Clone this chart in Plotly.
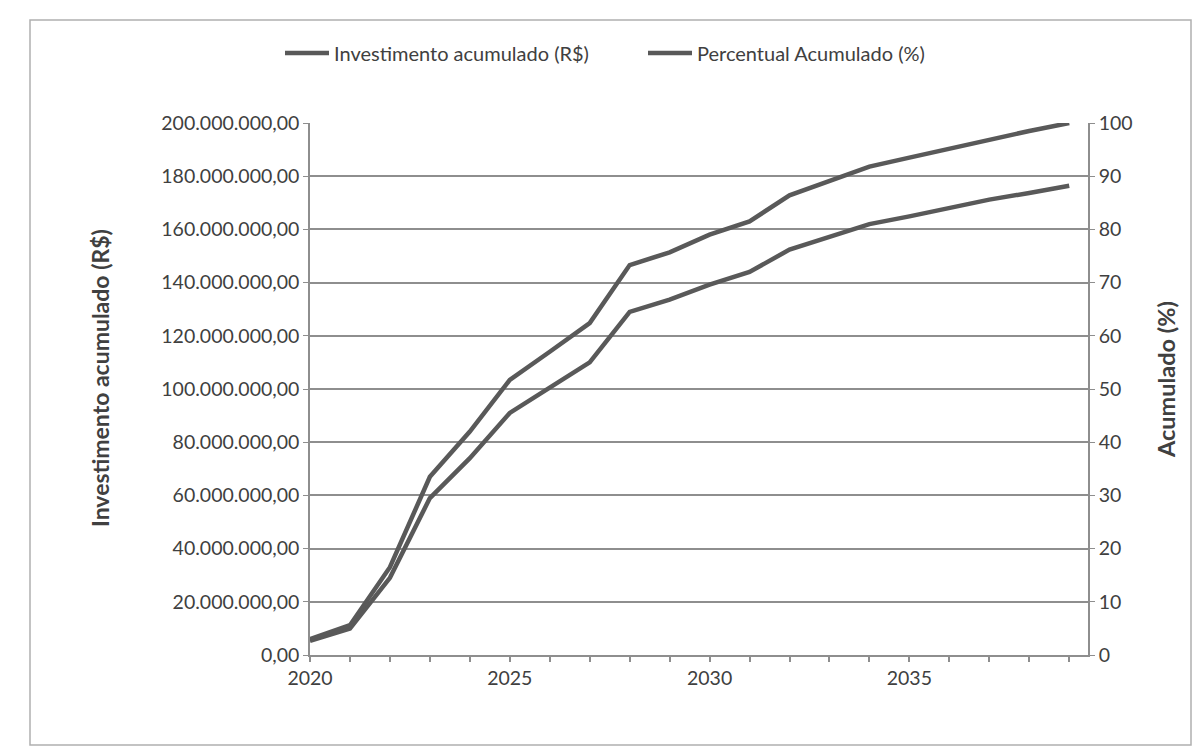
import plotly.graph_objects as go

years = list(range(2020, 2040))
investimento = [5.3e6, 9.9e6, 29.0e6, 59.0e6, 74.0e6, 91.0e6, 100.5e6, 110.0e6, 129.0e6, 133.6e6,
                139.2e6, 144.0e6, 152.4e6, 157.4e6, 162.0e6, 164.9e6, 168.0e6, 171.2e6, 173.7e6, 176.4e6]
percentual = [3.0, 5.6, 16.5, 33.5, 42.0, 51.7, 57.0, 62.4, 73.3, 75.7,
              79.0, 81.5, 86.4, 89.2, 91.8, 93.5, 95.2, 97.0, 98.5, 100.0]

name_inv = "Investimento acumulado (R$)"
name_pct = "Percentual Acumulado (%)"
title_left = "Investimento acumulado (R$)"
title_right = "Acumulado (%)"

LINE = "#595959"
GRID = "#8e8e8e"
TXT = "#404040"
FONT = "Lato"
TICK = 19.5

fig = go.Figure()
fig.add_trace(go.Scatter(x=years, y=investimento, name=name_inv, mode="lines",
                         line=dict(color=LINE, width=4.5), yaxis="y"))
fig.add_trace(go.Scatter(x=years, y=percentual, name=name_pct, mode="lines",
                         line=dict(color=LINE, width=4.5), yaxis="y2"))

L, R, T, B = 302, 1080, 115, 647
W, H = 1203, 749

def px(x):
    return (x - L) / (R - L)

def py(y):
    return (B - y) / (B - T)

fig.update_layout(
    width=W, height=H,
    margin=dict(l=L, r=W - R, t=T, b=H - B),
    paper_bgcolor="white", plot_bgcolor="white",
    separators=",.",
    font=dict(family=FONT, size=TICK, color=TXT),
    showlegend=True,
    legend=dict(orientation="h", x=px(272), xanchor="left", y=py(45), yanchor="middle",
                font=dict(family=FONT, size=20, color=TXT), bgcolor="rgba(0,0,0,0)",
                itemwidth=44, entrywidth=304, entrywidthmode="pixels", tracegroupgap=0),
    xaxis=dict(range=[2020, 2039.47], tickmode="linear", tick0=2020, dtick=5,
               ticks="outside", ticklen=5, tickcolor=GRID, tickwidth=1.5,
               minor=dict(dtick=1, tick0=2020, ticks="outside", ticklen=5, tickcolor=GRID, tickwidth=1.5),
               showgrid=False, zeroline=False, showline=True, linecolor=GRID, linewidth=1.5,
               tickfont=dict(family=FONT, size=TICK, color=TXT), fixedrange=True),
    yaxis=dict(range=[0, 200e6], tickmode="linear", tick0=0, dtick=20e6, tickformat=",.2f",
               showgrid=True, gridcolor=GRID, gridwidth=1.5, zeroline=False,
               showline=True, linecolor=GRID, linewidth=1.5,
               ticks="outside", ticklen=5, tickcolor=GRID,
               tickfont=dict(family=FONT, size=TICK, color=TXT)),
    yaxis2=dict(range=[0, 100], tickmode="linear", tick0=0, dtick=10, overlaying="y", side="right",
                showgrid=False, zeroline=False, showline=True, linecolor=GRID, linewidth=1.5,
                ticks="outside", ticklen=5, tickcolor=GRID,
                tickfont=dict(family=FONT, size=TICK, color=TXT)),
)

fig.add_annotation(text="<b>" + title_left + "</b>", xref="paper", yref="paper",
                   x=px(92), y=py(370), xanchor="center", yanchor="middle",
                   textangle=-90, showarrow=False,
                   font=dict(family=FONT, size=23, color=TXT))
fig.add_annotation(text="<b>" + title_right + "</b>", xref="paper", yref="paper",
                   x=px(1158), y=py(372), xanchor="center", yanchor="middle",
                   textangle=-90, showarrow=False,
                   font=dict(family=FONT, size=23.5, color=TXT))

fig.add_shape(type="rect", xref="paper", yref="paper",
              x0=px(22), x1=px(1183), y0=py(737), y1=py(12),
              line=dict(color="#b0b0b0", width=1.5), layer="below")

fig.write_html("out.html")
